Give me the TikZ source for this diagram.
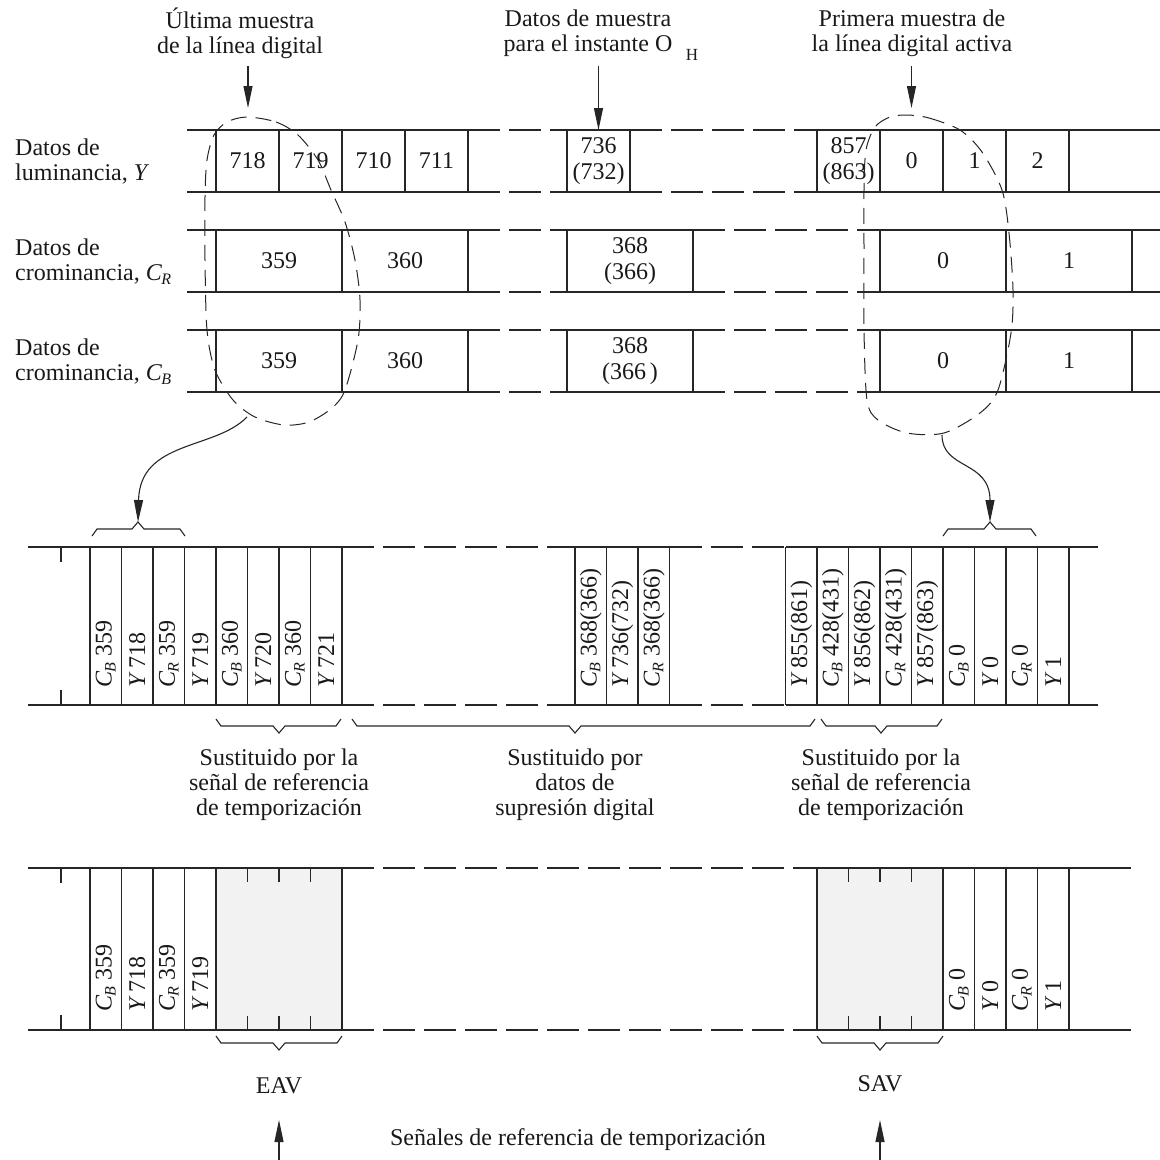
\documentclass[tikz,border=0pt]{standalone}
\usepackage{fontspec}
\setmainfont{Liberation Serif}
\usetikzlibrary{arrows.meta}
\newcommand\cbsub{\textit{C}\kern-0.03em\raisebox{-0.35ex}{\fontsize{16}{16}\selectfont\textit{B}}}
\newcommand\crsub{\textit{C}\kern-0.03em\raisebox{-0.35ex}{\fontsize{16}{16}\selectfont\textit{R}}}
\newcommand\yy{\textit{Y}\kern4pt}
\newcommand\braceup[4]{\draw[sol] (#1,#4) -- (#1+5,#4-7) -- (#3-6,#4-7) -- (#3,#4-14) -- (#3+6,#4-7) -- (#2-5,#4-7) -- (#2,#4);}
\newcommand\bracedn[4]{\draw[sol] (#1,#4) -- (#1+5,#4+7) -- (#3-6,#4+7) -- (#3,#4+14) -- (#3+6,#4+7) -- (#2-5,#4+7) -- (#2,#4);}
\begin{document}
\begin{tikzpicture}[x=1pt,y=-1pt,
  font=\fontsize{24}{26}\selectfont,
  sol/.style={line width=1.1pt,draw=black!85},
  dsh/.style={sol,dash pattern=on 32pt off 9pt},
  ov/.style={line width=1pt,draw=black!85,dash pattern=on 16pt off 9pt},
  txt/.style={inner sep=0pt,align=center,text=black!90},
  rot/.style={rotate=90,anchor=west,inner sep=0pt,text=black!90},
  arr/.style={sol,-{Triangle[length=22pt,width=9pt]}},
  gbox/.style={sol,fill=gray!10}]
\useasboundingbox (0,0) rectangle (1160,1160);

% ---------- top labels ----------
\node[txt,font=\fontsize{24}{25}\selectfont] (labL) at (240,33) {Última muestra\\de la línea digital};
\node[txt,font=\fontsize{24}{25}\selectfont] (labM) at (588,33) {Datos de muestra\\para el instante O};
\node[txt,font=\fontsize{17}{17}\selectfont] (labH) at (692,55) {H};
\node[txt,font=\fontsize{24}{25}\selectfont] (labR) at (912,33) {Primera muestra de\\la línea digital activa};
\coordinate (aLs) at (248,66);   \coordinate (aLe) at (248,108);
\coordinate (aMs) at (598.5,66); \coordinate (aMe) at (598.5,130);
\coordinate (aRs) at (911.5,66); \coordinate (aRe) at (911.5,108);
\draw[arr] (aLs) -- (aLe);
\draw[arr] (aMs) -- (aMe);
\draw[arr] (aRs) -- (aRe);

% ---------- row labels ----------
\node[txt,align=left,anchor=west,font=\fontsize{24}{25}\selectfont] (rY) at (15,162) {Datos de\\luminancia, \textit{Y}};
\node[txt,align=left,anchor=west,font=\fontsize{24}{25}\selectfont] (rR) at (15,262) {Datos de\\crominancia, \crsub};
\node[txt,align=left,anchor=west,font=\fontsize{24}{25}\selectfont] (rB) at (15,362) {Datos de\\crominancia, \cbsub};

% ---------- Y row ----------
\foreach \yy in {130,192} {
  \draw[sol] (187,\yy) -- (468,\yy);
  \draw[dsh] (468,\yy) -- (567,\yy);
  \draw[sol] (567,\yy) -- (630,\yy);
  \draw[dsh] (630,\yy) -- (817,\yy);
  \draw[sol] (817,\yy) -- (1160,\yy);
}
\foreach \x in {216,279,342,405,468,567,630,817,880,943,1006,1069}
  \draw[sol] (\x,130) -- (\x,192);
\node[txt] (y718) at (247.5,161) {718};
\node[txt] (y719) at (310.5,161) {719};
\node[txt] (y710) at (373.5,161) {710};
\node[txt] (y711) at (436.5,161) {711};
\node[txt] (y736) at (598.5,161) {736\\(732)};
\node[txt] (y857) at (848.5,161) {857\\(863)};
\node[txt] (y0) at (911.5,161) {0};
\node[txt] (y1) at (974.5,161) {1};
\node[txt] (y2) at (1037.5,161) {2};

% ---------- chroma rows ----------
\foreach \ya/\yb in {230/292,330/392} {
  \foreach \yy in {\ya,\yb} {
    \draw[sol] (187,\yy) -- (468,\yy);
    \draw[dsh] (468,\yy) -- (567,\yy);
    \draw[sol] (567,\yy) -- (693,\yy);
    \draw[dsh] (693,\yy) -- (880,\yy);
    \draw[sol] (880,\yy) -- (1160,\yy);
  }
  \foreach \x in {216,342,468,567,693,880,1006,1132}
    \draw[sol] (\x,\ya) -- (\x,\yb);
}
\node[txt] (r359) at (279,261) {359};
\node[txt] (r360) at (405,261) {360};
\node[txt] (r368) at (630,261) {368\\(366)};
\node[txt] (r0) at (943,261) {0};
\node[txt] (r1) at (1069,261) {1};
\node[txt] (b359) at (279,361) {359};
\node[txt] (b360) at (405,361) {360};
\node[txt] (b368) at (630,361) {368\\(366\,)};
\node[txt] (b0) at (943,361) {0};
\node[txt] (b1) at (1069,361) {1};

% ---------- ovals ----------
\draw[ov] plot[smooth cycle] coordinates {(247,117) (276,122) (298,135) (318,160) (331,190) (345,222) (355,260) (360,300) (358,340) (345,390) (332,408) (309,422) (284,425) (255,417) (233,400) (215,370) (207,330) (205,260) (205,197) (207,160) (214,135) (227,122)};
\draw[ov] plot[smooth cycle] coordinates {(907,115) (929,118) (960,130) (982,152) (1002,190) (1009,233) (1013,290) (1011,333) (998,390) (980,413) (944,433) (907,433) (878,420) (867,400) (864,330) (864,250) (864,190) (866,150) (875,127) (890,117)};
\coordinate (ovL) at (247,417);
\coordinate (ovR) at (942,435);
\coordinate (brL) at (138,522);
\coordinate (brR) at (990,522);
\draw[arr] (ovL) .. controls (215,450) and (140,440) .. (brL);
\draw[arr] (ovR) .. controls (942,470) and (990,460) .. (brR);
\braceup{92}{185}{138}{536}
\braceup{943}{1036}{990}{536}

% ---------- middle panel ----------
\foreach \yy in {547,705} {
  \draw[sol] (28,\yy) -- (342,\yy);
  \draw[dsh] (342,\yy) -- (575,\yy);
  \draw[sol] (575,\yy) -- (669.5,\yy);
  \draw[dsh] (669.5,\yy) -- (785.5,\yy);
  \draw[sol] (785.5,\yy) -- (1098,\yy);
}
\draw[sol] (61,547) -- (61,562);
\draw[sol] (61,705) -- (61,690);
\foreach \x in {90,121.5,153,184.5,216,247.5,279,310.5,342,575,606.5,638,669.5,785.5,817,848.5,880,911.5,943,974.5,1006,1037.5,1069}
  \draw[sol] (\x,547) -- (\x,705);
\node[rot] (m1) at (105.75,688) {\cbsub\ 359};
\node[rot] (m2) at (137.25,688) {\yy 718};
\node[rot] (m3) at (168.75,688) {\crsub\ 359};
\node[rot] (m4) at (200.25,688) {\yy 719};
\node[rot] (m5) at (231.75,688) {\cbsub\ 360};
\node[rot] (m6) at (263.25,688) {\yy 720};
\node[rot] (m7) at (294.75,688) {\crsub\ 360};
\node[rot] (m8) at (326.25,688) {\yy 721};
\node[rot] (m9) at (590.75,688) {\cbsub\ 368(366)};
\node[rot] (m10) at (622.25,688) {\yy 736(732)};
\node[rot] (m11) at (653.75,688) {\crsub\ 368(366)};
\node[rot] (m12) at (801.25,688) {\yy 855(861)};
\node[rot] (m13) at (832.75,688) {\cbsub\ 428(431)};
\node[rot] (m14) at (864.25,688) {\yy 856(862)};
\node[rot] (m15) at (895.75,688) {\crsub\ 428(431)};
\node[rot] (m16) at (927.25,688) {\yy 857(863)};
\node[rot] (m17) at (958.75,688) {\cbsub\ 0};
\node[rot] (m18) at (990.25,688) {\yy 0};
\node[rot] (m19) at (1021.75,688) {\crsub\ 0};
\node[rot] (m20) at (1053.25,688) {\yy 1};

\bracedn{216}{341}{279}{719}
\bracedn{352}{815}{575}{719}
\bracedn{821}{942}{881}{719}
\node[txt,font=\fontsize{24}{25}\selectfont] (s1) at (279,785) {Sustituido por la\\señal de referencia\\de temporización};
\node[txt,font=\fontsize{24}{25}\selectfont] (s2) at (575,785) {Sustituido por\\datos de\\supresión digital};
\node[txt,font=\fontsize{24}{25}\selectfont] (s3) at (881,785) {Sustituido por la\\señal de referencia\\de temporización};

% ---------- bottom panel ----------
\foreach \yy in {868,1030} {
  \draw[sol] (28,\yy) -- (216,\yy);
  \draw[dsh] (342,\yy) -- (817,\yy);
  \draw[sol] (943,\yy) -- (1131,\yy);
}
\draw[gbox] (216,868) rectangle (342,1030);
\draw[gbox] (817,868) rectangle (943,1030);
\draw[sol] (61,868) -- (61,883);
\draw[sol] (61,1030) -- (61,1015);
\foreach \x in {247.5,279,310.5,848.5,880,911.5} {
  \draw[sol] (\x,868) -- (\x,882);
  \draw[sol] (\x,1030) -- (\x,1016);
}
\foreach \x in {90,121.5,153,184.5,974.5,1006,1037.5,1069}
  \draw[sol] (\x,868) -- (\x,1030);
\node[rot] (n1) at (105.75,1012) {\cbsub\ 359};
\node[rot] (n2) at (137.25,1012) {\yy 718};
\node[rot] (n3) at (168.75,1012) {\crsub\ 359};
\node[rot] (n4) at (200.25,1012) {\yy 719};
\node[rot] (n5) at (958.75,1012) {\cbsub\ 0};
\node[rot] (n6) at (990.25,1012) {\yy 0};
\node[rot] (n7) at (1021.75,1012) {\crsub\ 0};
\node[rot] (n8) at (1053.25,1012) {\yy 1};

\bracedn{216}{342}{279}{1036}
\bracedn{817}{943}{880}{1036}
\node[txt] (eav) at (279,1086) {EAV};
\node[txt] (sav) at (880,1084) {SAV};
\coordinate (e1) at (279,1160); \coordinate (e2) at (279,1120);
\coordinate (f1) at (880,1160); \coordinate (f2) at (880,1120);
\draw[arr] (e1) -- (e2);
\draw[arr] (f1) -- (f2);
\node[txt] (sen) at (578,1140) {Señales de referencia de temporización};
\end{tikzpicture}
\end{document}
